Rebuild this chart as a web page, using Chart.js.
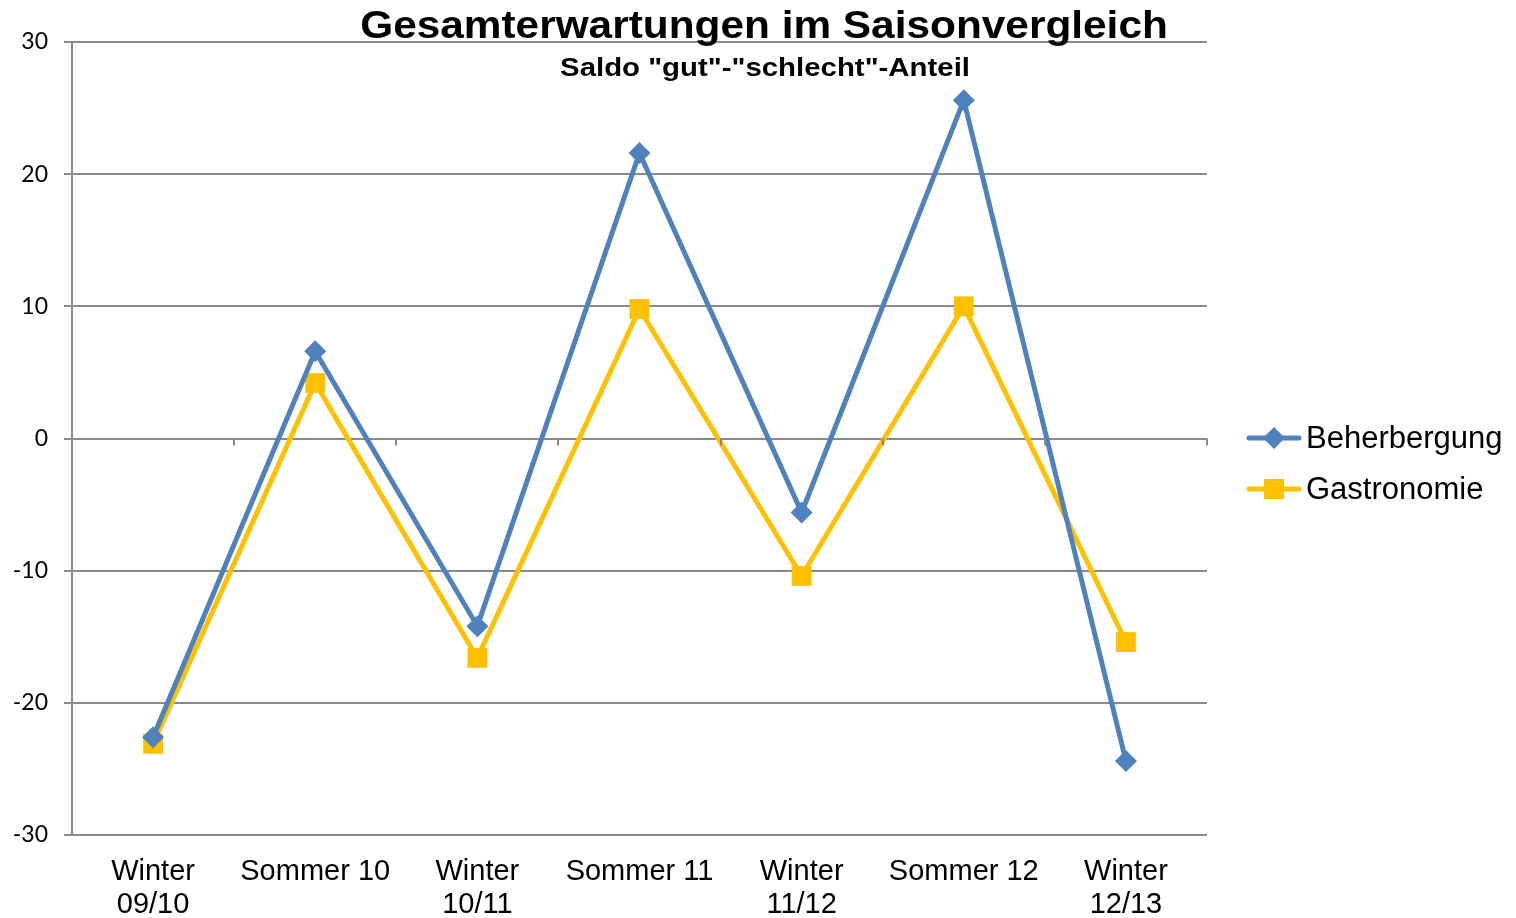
<!DOCTYPE html>
<html>
<head>
<meta charset="utf-8">
<script src="https://cdn.jsdelivr.net/npm/chart.js@4/dist/chart.umd.min.js"></script>
<style>
  html, body { margin: 0; padding: 0; background: #fff; }
  #wrap { width: 1516px; height: 918px; }
</style>
</head>
<body>
<div id="wrap"><canvas id="chart" width="1516" height="918"></canvas></div>
<script>
// ---------------------------
// Data
// ---------------------------
const seasons = [
    ["Winter", "09/10"], "Sommer 10", ["Winter", "10/11"], "Sommer 11",
    ["Winter", "11/12"], "Sommer 12", ["Winter", "12/13"]
];
const beherbergung = [-22.6, 6.6, -14.2, 21.6, -5.6, 25.6, -24.4];
const gastronomie = [-23.1, 4.2, -16.6, 9.8, -10.4, 10.0, -15.4];
const yTicks = [-30, -20, -10, 0, 10, 20, 30];

const titleText = "Gesamterwartungen im Saisonvergleich";
const subtitleText = 'Saldo "gut"-"schlecht"-Anteil';

const BLUE = "#4f81bd";
const GOLD = "#ffc000";
const GRID = "#8a8a8a";
const FONT = "'Liberation Sans', Arial, sans-serif";

// ---------------------------
// Small helper plugins
// ---------------------------
// tick marks on the zero line between categories
const zeroTicks = {
    id: "zeroTicks",
    afterDatasetsDraw(chart) {
        const { ctx, scales: { x, y } } = chart;
        const y0 = y.getPixelForValue(0);
        ctx.save();
        ctx.strokeStyle = GRID;
        ctx.lineWidth = 2;
        ctx.beginPath();
        for (let i = 1; i <= seasons.length; i++) {
            const px = Math.round(x.getPixelForValue(i - 0.5));
            ctx.moveTo(px, y0);
            ctx.lineTo(px, y0 + 7);
        }
        ctx.stroke();
        ctx.restore();
    }
};

// draws text stretched a bit wider, like the original export
function wideText(ctx, text, cx, baseline, sx) {
    ctx.save();
    ctx.translate(cx, baseline);
    ctx.scale(sx, 1);
    ctx.fillText(text, 0, 0);
    ctx.restore();
}

// title over the plot + legend on the right
const decorations = {
    id: "decorations",
    afterDraw(chart) {
        const { ctx } = chart;
        ctx.save();
        ctx.fillStyle = "#000";
        ctx.textAlign = "center";
        ctx.textBaseline = "alphabetic";
        ctx.font = `bold 38px ${FONT}`;
        wideText(ctx, titleText, 764, 38, 1.115);
        ctx.font = `bold 26px ${FONT}`;
        wideText(ctx, subtitleText, 765, 76, 1.13);

        const items = [
            { label: "Beherbergung", color: BLUE, style: "diamond", y: 438 },
            { label: "Gastronomie", color: GOLD, style: "square", y: 489 }
        ];
        items.forEach(it => {
            ctx.strokeStyle = it.color;
            ctx.fillStyle = it.color;
            ctx.lineWidth = 5;
            ctx.lineCap = "round";
            ctx.beginPath();
            ctx.moveTo(1249, it.y);
            ctx.lineTo(1299, it.y);
            ctx.stroke();
            ctx.beginPath();
            if (it.style === "diamond") {
                ctx.moveTo(1274, it.y - 11);
                ctx.lineTo(1285, it.y);
                ctx.lineTo(1274, it.y + 11);
                ctx.lineTo(1263, it.y);
                ctx.closePath();
            } else {
                ctx.rect(1264, it.y - 10, 20, 20);
            }
            ctx.fill();
            ctx.fillStyle = "#000";
            ctx.textAlign = "left";
            ctx.textBaseline = "middle";
            ctx.font = `31px ${FONT}`;
            ctx.fillText(it.label, 1306, it.y + 1);
        });
        ctx.restore();
    }
};

// ---------------------------
// Chart
// ---------------------------
function drawChart() {
    const ctx = document.getElementById("chart").getContext("2d");
    new Chart(ctx, {
        type: "line",
        data: {
            labels: seasons,
            datasets: [{
                label: "Beherbergung",
                data: beherbergung,
                borderColor: BLUE,
                backgroundColor: BLUE,
                borderWidth: 5,
                pointStyle: "rectRot",
                pointRadius: 11,
                pointBorderWidth: 0,
                tension: 0
            }, {
                label: "Gastronomie",
                data: gastronomie,
                borderColor: GOLD,
                backgroundColor: GOLD,
                borderWidth: 5,
                pointStyle: "rect",
                pointRadius: 14,
                pointBorderWidth: 0,
                tension: 0
            }]
        },
        options: {
            responsive: false,
            animation: false,
            layout: { padding: { left: 0, right: 309, top: 42, bottom: 0 } },
            plugins: {
                legend: { display: false },
                title: { display: false },
                tooltip: { enabled: false }
            },
            scales: {
                x: {
                    offset: true,
                    grid: { display: false, drawTicks: false },
                    border: { display: false },
                    ticks: {
                        color: "#000",
                        font: { family: FONT, size: 29, lineHeight: 1.15 },
                        padding: 20,
                        maxRotation: 0,
                        autoSkip: false
                    },
                    afterFit(scale) { scale.height = 83; }
                },
                y: {
                    min: -30,
                    max: 30,
                    afterBuildTicks(scale) { scale.ticks = yTicks.map(v => ({ value: v })); },
                    grid: { color: GRID, lineWidth: 2, tickLength: 8, drawTicks: true },
                    border: { display: true, color: GRID, width: 2 },
                    ticks: {
                        color: "#000",
                        font: { family: "Lato", size: 23 },
                        padding: 16
                    },
                    afterFit(scale) { scale.width = 72; }
                }
            }
        },
        plugins: [zeroTicks, decorations]
    });
}

Promise.all([
    document.fonts.load("23px Lato"),
    document.fonts.load(`29px ${FONT}`),
    document.fonts.load(`bold 38px ${FONT}`)
]).then(drawChart, drawChart);
</script>
</body>
</html>
